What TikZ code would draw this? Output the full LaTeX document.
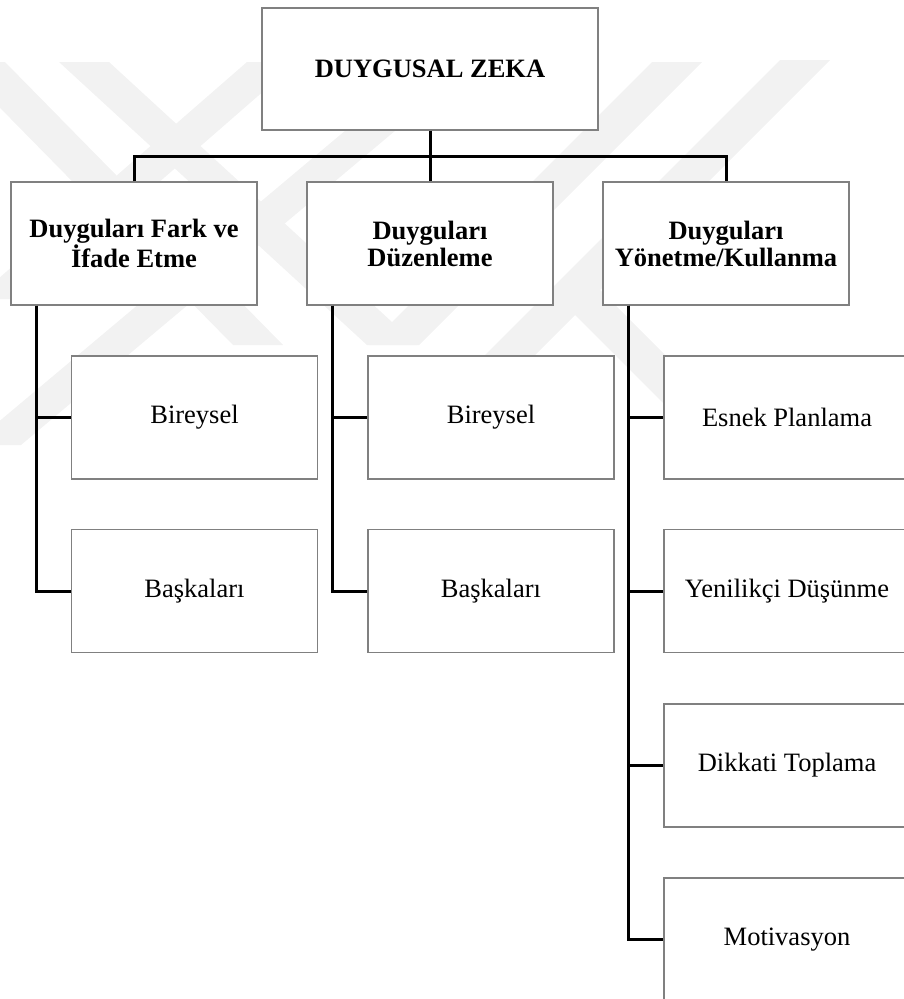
\documentclass[tikz,border=0pt]{standalone}
\usepackage{fontspec}
\setmainfont{Liberation Serif}
\definecolor{boxGray}{RGB}{128,128,128}
\definecolor{markGray}{RGB}{242,242,242}

\tikzset{
  itembox/.style={draw=boxGray, line width=1.3pt, fill=white, inner sep=0pt,
    minimum width=246pt, minimum height=123pt, align=center,
    font=\fontsize{26.5}{27}\selectfont},
  headbox/.style={itembox, font=\fontsize{26.5}{27}\selectfont\bfseries},
  link/.style={line width=3pt},
}

\begin{document}
\begin{tikzpicture}[x=1pt, y=-1pt]
  \useasboundingbox (0,0) rectangle (903,999);
  % faint watermark behind the chart
  \fill[markGray] (59,62) -- (109,62) -- (417,345) -- (367,345) -- cycle;
  \fill[markGray] (-45,62) -- (5,62) -- (283,345) -- (233,345) -- cycle;
  \fill[markGray] (247,62) -- (297,62) -- (25,299) -- (-25,299) -- cycle;
  \fill[markGray] (427,62) -- (477,62) -- (21,445) -- (-29,445) -- cycle;
  \fill[markGray] (652,62) -- (702,62) -- (419,345) -- (369,345) -- cycle;
  \fill[markGray] (780,60) -- (830,60) -- (445,445) -- (395,445) -- cycle;
  \fill[markGray] (550,290) -- (600,290) -- (755,445) -- (705,445) -- cycle;

  % top
  \node[headbox, minimum width=336pt, minimum height=122pt] (zeka) at (430,69) {DUYGUSAL ZEKA};

  % second level
  \node[headbox] (fark) at (134,243.5) {Duyguları Fark ve\\İfade Etme};
  \node[headbox] (duzen) at (430,243.5) {Duyguları\\Düzenleme};
  \node[headbox] (yonet) at (726,243.5) {Duyguları\\Yönetme/Kullanma};

  % third level
  \node[itembox] (fark1) at (194.5,417.5) {Bireysel};
  \node[itembox] (fark2) at (194.5,591) {Başkaları};
  \node[itembox] (duzen1) at (491,417.5) {Bireysel};
  \node[itembox] (duzen2) at (491,591) {Başkaları};
  \node[itembox] (yonet1) at (787,417.5) {Esnek Planlama};
  \node[itembox] (yonet2) at (787,591) {Yenilikçi Düşünme};
  \node[itembox] (yonet3) at (787,765.5) {Dikkati Toplama};
  \node[itembox] (yonet4) at (787,939.5) {Motivasyon};

  % connectors
  \coordinate (bus) at (430,156);
  \draw[link] (zeka.south) -- (bus);
  \draw[link] (fark.north) |- (bus) -| (yonet.north);
  \draw[link] (bus) -- (duzen.north);

  \foreach \sub in {fark1, fark2}
    \draw[link] ([xshift=-98pt]fark.south) |- (\sub.west);
  \foreach \sub in {duzen1, duzen2}
    \draw[link] ([xshift=-98pt]duzen.south) |- (\sub.west);
  \foreach \sub in {yonet1, yonet2, yonet3, yonet4}
    \draw[link] ([xshift=-98pt]yonet.south) |- (\sub.west);
\end{tikzpicture}
\end{document}
